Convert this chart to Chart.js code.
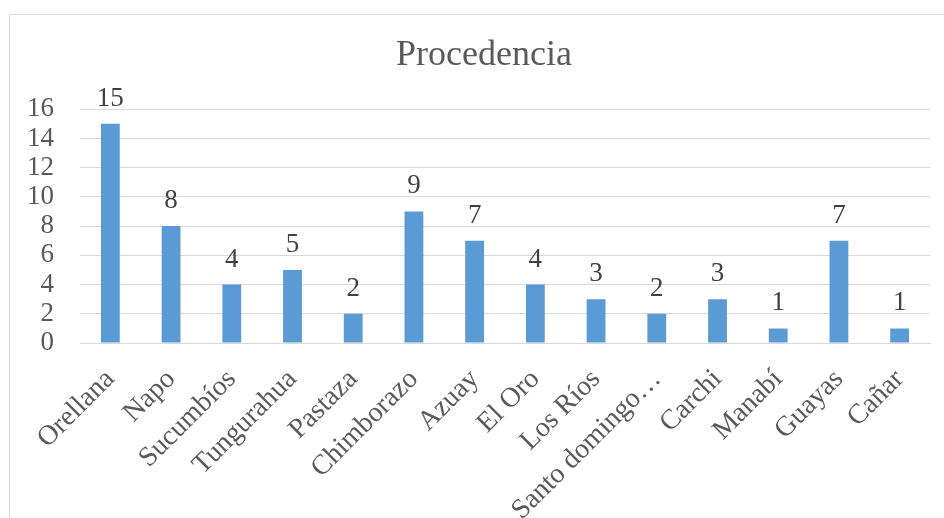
<!DOCTYPE html>
<html>
<head>
<meta charset="utf-8">
<script src="https://cdn.jsdelivr.net/npm/chart.js@4/dist/chart.umd.min.js"></script>
<style>
html,body{margin:0;padding:0;background:#fff;}
#wrap{width:944px;height:518px;position:relative;}
</style>
</head>
<body>
<div id="wrap"><canvas id="c" width="944" height="518"></canvas></div>
<script>
const categories = ["Orellana","Napo","Sucumbíos","Tungurahua","Pastaza","Chimborazo","Azuay","El Oro","Los Ríos","Santo domingo…","Carchi","Manabí","Guayas","Cañar"];
const values = [15,8,4,5,2,9,7,4,3,2,3,1,7,1];
const titleText = "Procedencia";
const yMin = 0, yMax = 16, yStep = 2;

const FONT = "'Liberation Serif','Times New Roman',serif";

const borderPlugin = {
  id: 'frame',
  beforeDraw(chart) {
    const ctx = chart.ctx;
    ctx.save();
    ctx.fillStyle = '#fff';
    ctx.fillRect(0, 0, chart.width, chart.height);
    ctx.strokeStyle = '#d9d9d9';
    ctx.lineWidth = 1;
    ctx.beginPath();
    ctx.moveTo(9.5, chart.height);
    ctx.lineTo(9.5, 14.5);
    ctx.lineTo(chart.width, 14.5);
    ctx.stroke();
    ctx.restore();
  }
};

const titleShiftPlugin = {
  id: 'titleShift',
  afterLayout(chart) {
    if (chart.titleBlock) {
      chart.titleBlock.left = 38;
      chart.titleBlock.right = 930;
    }
  }
};

const labelPlugin = {
  id: 'valueLabels',
  afterDatasetsDraw(chart) {
    const ctx = chart.ctx;
    const meta = chart.getDatasetMeta(0);
    ctx.save();
    ctx.font = "27px " + FONT;
    ctx.fillStyle = '#404040';
    ctx.textAlign = 'center';
    ctx.textBaseline = 'alphabetic';
    meta.data.forEach((bar, i) => {
      ctx.fillText(String(chart.data.datasets[0].data[i]), bar.x, bar.y - 18);
    });
    ctx.restore();
  }
};

new Chart(document.getElementById('c'), {
  type: 'bar',
  data: {
    labels: categories,
    datasets: [{
      data: values,
      backgroundColor: '#5B9BD5',
      borderWidth: 0,
      categoryPercentage: 1.0,
      barPercentage: 0.31
    }]
  },
  options: {
    responsive: false,
    animation: false,
    devicePixelRatio: 1,
    layout: { padding: { top: 14, left: 10, right: 14, bottom: 0 } },
    plugins: {
      legend: { display: false },
      tooltip: { enabled: false },
      title: {
        display: true,
        text: titleText,
        color: '#595959',
        font: { family: FONT, size: 36, weight: 'normal', lineHeight: 1.2 },
        padding: { top: 20, bottom: 32 }
      }
    },
    scales: {
      x: {
        grid: { display: false, drawTicks: false },
        border: { display: true, color: '#d9d9d9' },
        ticks: {
          autoSkip: false,
          minRotation: 45,
          maxRotation: 45,
          padding: 20,
          color: '#595959',
          font: { family: FONT, size: 28 }
        },
        afterFit(scale) { scale.height = 175; }
      },
      y: {
        min: yMin,
        max: yMax,
        grid: { color: '#d9d9d9', drawTicks: false },
        border: { display: false },
        ticks: {
          stepSize: yStep,
          autoSkip: false,
          padding: 26,
          color: '#595959',
          font: { family: FONT, size: 27 }
        },
        afterFit(scale) { scale.width = 70; }
      }
    }
  },
  plugins: [borderPlugin, titleShiftPlugin, labelPlugin]
});
</script>
</body>
</html>
